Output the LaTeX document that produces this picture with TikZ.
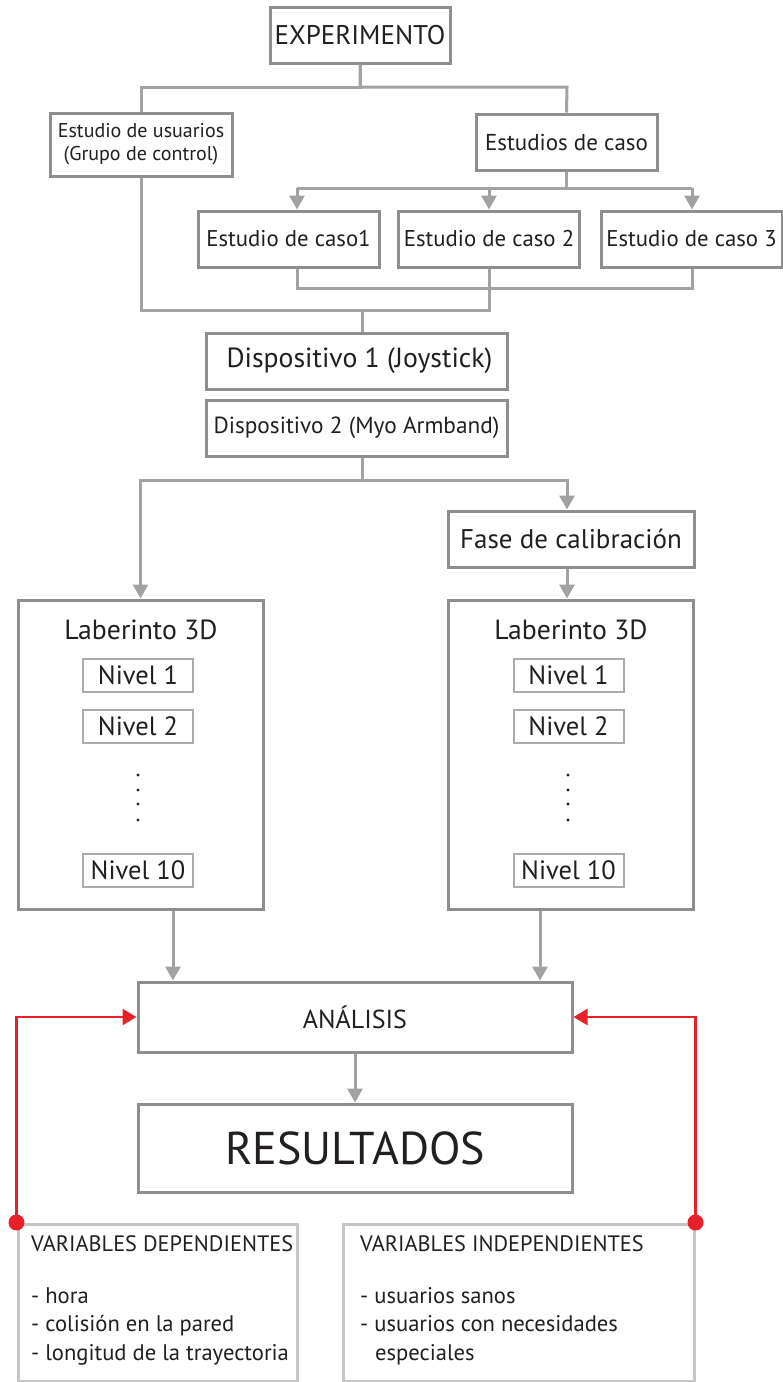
\documentclass[tikz,border=0pt]{standalone}
\usepackage{fontspec}
\setmainfont{PT Sans}
\usetikzlibrary{arrows.meta}
\definecolor{ink}{HTML}{231F20}
\definecolor{boxgray}{HTML}{8E8E90}
\definecolor{linegray}{HTML}{A2A2A4}
\definecolor{lightgray}{HTML}{ABABAD}
\definecolor{palegray}{HTML}{C6C6C8}
\definecolor{accent}{HTML}{E8202A}
\newcommand{\fs}[1]{\fontsize{#1}{#1}\selectfont}
\tikzset{
  box/.style={draw=boxgray, line width=3pt, fill=white, inner sep=0pt, text=ink},
  lvlbox/.style={draw=lightgray, line width=2pt, fill=white, inner sep=0pt, text=ink,
    minimum width=110pt, minimum height=33pt, font=\fs{26.5}},
  varbox/.style={draw=palegray, line width=3pt, fill=white, inner sep=0pt},
  label/.style={text=ink, inner sep=0pt},
  conn/.style={draw=linegray, line width=3pt},
  arr/.style={conn, -{Triangle[width=15pt,length=14pt]}},
  redline/.style={draw=accent, line width=2.5pt, -{Triangle[width=16pt,length=14pt]}},
}
\begin{document}
\begin{tikzpicture}[x=1pt,y=-1pt]
\useasboundingbox (0,0) rectangle (783,1382);

% top of the tree
\node[box, minimum width=180pt, minimum height=56pt, font=\fs{27}] (exp) at (360,35) {EXPERIMENTO};
\node[box, minimum width=182pt, minimum height=63pt, font=\fs{20}, align=center] (usr) at (141,144.5) {Estudio de usuarios\\[3pt](Grupo de control)};
\node[box, minimum width=181pt, minimum height=56pt, font=\fs{23}] (cases) at (566.5,142) {Estudios de caso};
\node[box, minimum width=181pt, minimum height=56pt, font=\fs{22.8}] (c1) at (288.5,239) {Estudio de caso1};
\node[box, minimum width=181pt, minimum height=56pt, font=\fs{22.8}] (c2) at (489,239) {Estudio de caso 2};
\node[box, minimum width=181pt, minimum height=56pt, font=\fs{22.8}] (c3) at (691.5,239) {Estudio de caso 3};

\coordinate (t1) at (141,87);
\coordinate (t2) at (567,87);
\draw[conn] (exp.south) |- (t1) -- (usr.north);
\draw[conn] (exp.south) |- (t2) -- (cases.north);

\coordinate (b1) at (297,188);
\coordinate (b3) at (692,188);
\draw[conn] (cases.south) |- (b1);
\draw[conn] (cases.south) |- (b3);
\draw[arr] (b1) -- (b1 |- c1.north);
\draw[arr] (c2.north |- b1) -- (c2.north);
\draw[arr] (b3) -- (b3 |- c3.north);

% merge of the case studies and the control group
\coordinate (m1) at (297,288);
\coordinate (m3) at (692,288);
\coordinate (u1) at (141,310);
\coordinate (d0) at (362,310);
\draw[conn] (m1 |- c1.south) -- (m1) -- (m3) -- (m3 |- c3.south);
\draw[conn] (usr.south) -- (u1) -- (c2.south |- u1) -- (c2.south);

% devices
\node[box, minimum width=301pt, minimum height=56pt, font=\fs{27.7}] (dev1) at (356.5,361) {\hspace{6pt}Dispositivo 1 (Joystick)};
\node[box, minimum width=301pt, minimum height=56pt, font=\fs{23.3}] (dev2) at (356.5,428) {Dispositivo 2 (Myo Armband)};
\draw[conn] (d0) -- (d0 |- dev1.north);

\node[box, minimum width=246pt, minimum height=56pt, font=\fs{27}] (fase) at (571,539) {Fase de calibración};

\coordinate (s0) at (362,480);
\coordinate (sr) at (567,480);
\draw[conn] (s0 |- dev2.south) -- (s0);

% maze boxes
\node[box, minimum width=245pt, minimum height=309pt] (lab1) at (140.5,754.5) {};
\node[box, minimum width=245pt, minimum height=309pt] (lab2) at (570.5,754.5) {};
\draw[arr] (s0) -| (lab1.north);
\draw[arr] (s0) -| (sr |- fase.north);
\draw[arr] (sr |- fase.south) -- (sr |- lab2.north);

\node[label, font=\fs{27.7}] (lab1t) at (141,630) {Laberinto 3D};
\node[label, font=\fs{27.7}] (lab2t) at (571,630) {Laberinto 3D};

\node[lvlbox] (l1a) at (138,675.5) {Nivel 1};
\node[lvlbox] (l1b) at (138,726) {Nivel 2};
\node[lvlbox] (l1c) at (138,870.5) {Nivel 10};
\node[lvlbox] (l2a) at (568.5,675.5) {Nivel 1};
\node[lvlbox] (l2b) at (568.5,726) {Nivel 2};
\node[lvlbox] (l2c) at (568.5,870.5) {Nivel 10};
\foreach \yy in {775,790,804,820} {
  \fill[ink] (138,\yy) circle (1.6);
  \fill[ink] (568,\yy) circle (1.6);
}

% analysis and results
\node[box, minimum width=434pt, minimum height=70pt, font=\fs{26}] (ana) at (355,1017) {ANÁLISIS};
\node[box, minimum width=434pt, minimum height=88pt, font=\fs{46}] (res) at (355,1148) {RESULTADOS};
\draw[arr] ([xshift=32.5pt]lab1.south) -- ([xshift=32.5pt]lab1.south |- ana.north);
\draw[arr] ([xshift=-30.5pt]lab2.south) -- ([xshift=-30.5pt]lab2.south |- ana.north);
\draw[arr] (ana.south) -- (res.north);

% variables
\node[varbox, minimum width=279pt, minimum height=157pt] (dep) at (157.5,1302.5) {};
\node[varbox, minimum width=351pt, minimum height=157pt] (ind) at (518.5,1302.5) {};
\node[label, anchor=west, font=\fs{22.3}] (dept) at (31,1244) {VARIABLES DEPENDIENTES};
\node[label, anchor=west, font=\fs{22.3}] (indt) at (360,1244) {VARIABLES INDEPENDIENTES};
\node[label, anchor=north west, align=left, font=\fontsize{22.6}{28.5}\selectfont] (depl) at (31,1287)
  {- hora\\- colisión en la pared\\- longitud de la trayectoria};
\node[label, anchor=north west, align=left, font=\fontsize{22.6}{28.5}\selectfont] (indl) at (360,1287)
  {- usuarios sanos\\- usuarios con necesidades\\\hspace*{15pt}especiales};

\draw[redline] (dep.north west) |- (ana.west);
\draw[redline] (ind.north east) |- (ana.east);
\fill[accent] (dep.north west) circle (8);
\fill[accent] (ind.north east) circle (8);
\end{tikzpicture}
\end{document}
